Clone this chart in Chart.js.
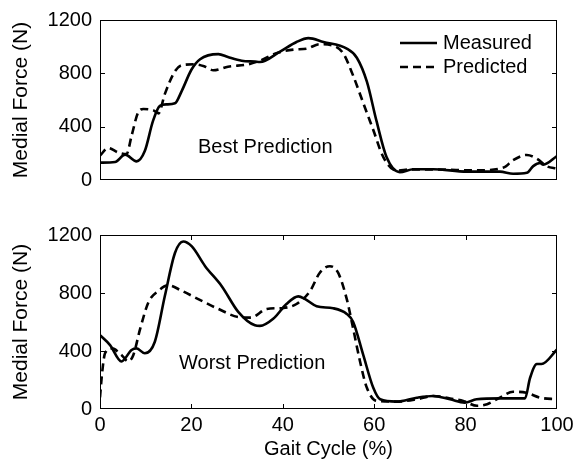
<!DOCTYPE html>
<html>
<head>
<meta charset="utf-8">
<script src="https://cdn.jsdelivr.net/npm/chart.js@4"></script>
<style>
  body { margin: 0; background: #fff; }
  #wrap { position: relative; width: 585px; height: 465px; }
  canvas { position: absolute; left: 0; }
</style>
</head>
<body>
<div id="wrap">
  <canvas id="bestChart" width="585" height="200" style="top:0"></canvas>
  <canvas id="worstChart" width="585" height="250" style="top:215px"></canvas>
</div>
<script>
// values (gait cycle %, force N)
const bestMeasuredX = [0, 3.3, 5.5, 8, 9.8, 11.6, 13.1, 14.6, 16.4, 17.9, 20, 21.9, 25.9, 28, 31, 33.9, 35, 39.4, 43, 45.6, 48.9, 54, 56.2, 58.4, 60.5, 62.7, 65.6, 68.6, 72.9, 80.2, 87.5, 90.4, 93.4, 94.8, 96.3, 97, 100];
const bestMeasuredY = [130, 135, 190, 140, 217, 443, 556, 567, 575, 669, 827, 906, 944, 922, 895, 888, 885, 963, 1035, 1064, 1035, 985, 917, 737, 443, 172, 59, 81, 81, 63, 63, 47, 54, 104, 127, 115, 180];
const bestPredictedX = [0, 1.8, 4, 5.8, 6.9, 8.4, 9.5, 11.7, 12.8, 14.2, 16.4, 17.9, 20.8, 23, 24.8, 28, 32.5, 35, 38.6, 42.3, 45.2, 48.1, 51, 53.2, 55.4, 57.6, 59.8, 62, 64.9, 68, 75, 82, 88.3, 90.4, 93.4, 95.6, 97.7, 100];
const bestPredictedY = [183, 240, 206, 194, 330, 511, 533, 522, 500, 646, 816, 861, 868, 850, 823, 850, 868, 895, 951, 978, 985, 1019, 1008, 951, 782, 578, 375, 172, 70, 80, 78, 72, 93, 149, 188, 160, 104, 85];

const worstMeasuredX = [0, 2.2, 4.7, 6.9, 8, 9.8, 12, 14.2, 16.4, 18.2, 20.1, 23, 26.6, 30.3, 33.9, 35, 37.9, 40.8, 43.4, 44.9, 47.4, 51, 54, 55.4, 57.6, 59.8, 61.3, 64.9, 69.3, 72.9, 76.6, 79.8, 82.4, 87.6, 93, 94.1, 95.6, 96.6, 100];
const worstMeasuredY = [509, 441, 328, 407, 418, 384, 464, 781, 1076, 1155, 1121, 985, 849, 668, 577, 573, 622, 724, 777, 758, 709, 695, 656, 600, 373, 146, 67, 51, 78, 90, 67, 44, 67, 73, 73, 214, 310, 310, 410];
const worstPredictedX = [0, 0.5, 1.1, 2.6, 4.7, 6.2, 7.3, 8.8, 10.6, 12.8, 14.9, 17.9, 21.5, 25.9, 30.3, 33, 36.5, 40.1, 43, 46, 48.1, 50.3, 52.1, 54, 55.4, 56.9, 58.4, 60.5, 64.9, 69.3, 72.9, 76.6, 79.5, 82.5, 84.7, 87.5, 90.4, 93.3, 96.3, 100];
const worstPredictedY = [80, 260, 384, 418, 373, 328, 373, 554, 736, 815, 854, 815, 758, 690, 634, 630, 690, 697, 724, 815, 940, 985, 940, 758, 554, 328, 146, 56, 51, 67, 90, 73, 56, 22, 33, 78, 119, 112, 78, 67];

const xTicks = [0, 20, 40, 60, 80, 100];
const yTicks = [0, 400, 800, 1200];
const seriesNames = ['Measured', 'Predicted'];

const FONT = 'Liberation Sans, Arial, Helvetica, sans-serif';

function toPoints(xs, ys) {
  return xs.map((x, i) => ({ x: x, y: ys[i] }));
}

// matlab style box with inward ticks + text labels
const boxPlugin = {
  id: 'boxPlugin',
  afterDraw(chart, args, opts) {
    const ctx = chart.ctx;
    const a = chart.chartArea;
    const xs = chart.scales.x, ys = chart.scales.y;
    const len = 5;
    ctx.save();
    ctx.strokeStyle = '#000';
    ctx.lineWidth = 1;
    ctx.strokeRect(a.left + 0.5, a.top + 0.5, a.right - a.left - 1, a.bottom - a.top - 1);
    ctx.beginPath();
    if (opts.xTicks) {
      xTicks.slice(1, -1).forEach(v => {
        const px = Math.round(xs.getPixelForValue(v)) + 0.5;
        ctx.moveTo(px, a.bottom); ctx.lineTo(px, a.bottom - len);
        ctx.moveTo(px, a.top); ctx.lineTo(px, a.top + len);
      });
    }
    yTicks.slice(1, -1).forEach(v => {
      const py = Math.round(ys.getPixelForValue(v)) + 0.5;
      ctx.moveTo(a.left, py); ctx.lineTo(a.left + len, py);
      ctx.moveTo(a.right, py); ctx.lineTo(a.right - len, py);
    });
    ctx.stroke();

    ctx.fillStyle = '#000';
    ctx.font = '20px ' + FONT;
    ctx.textBaseline = 'middle';
    ctx.textAlign = 'left';
    if (opts.label) ctx.fillText(opts.label.text, opts.label.x, opts.label.y);

    if (opts.legend) {
      const lg = opts.legend;
      chart.data.datasets.forEach((ds, i) => {
        const y = lg.y + i * 24;
        ctx.beginPath();
        ctx.lineWidth = ds.borderWidth;
        ctx.setLineDash(ds.borderDash || []);
        ctx.moveTo(lg.x, y); ctx.lineTo(lg.x + 37, y);
        ctx.stroke();
        ctx.setLineDash([]);
        ctx.fillText(ds.label, lg.x + 43, y);
      });
    }
    ctx.restore();
  }
};

function makeChart(id, measured, predicted, showX, padTop, xHeight, extras) {
  return new Chart(document.getElementById(id), {
    type: 'line',
    data: {
      datasets: [
        { label: seriesNames[0], data: measured, borderColor: '#000', borderWidth: 2.6,
          pointRadius: 0, tension: 0.4, cubicInterpolationMode: 'monotone', fill: false },
        { label: seriesNames[1], data: predicted, borderColor: '#000', borderWidth: 2.6, borderDash: [8, 5],
          pointRadius: 0, tension: 0.4, cubicInterpolationMode: 'monotone', fill: false }
      ]
    },
    options: {
      responsive: false,
      animation: false,
      devicePixelRatio: 1,
      layout: { padding: { top: padTop, right: 28, left: 0, bottom: 0 } },
      plugins: {
        legend: { display: false },
        tooltip: { enabled: false },
        boxPlugin: extras
      },
      scales: {
        x: {
          type: 'linear', min: 0, max: 100,
          afterFit: s => { s.height = xHeight; },
          afterBuildTicks: s => { s.ticks = xTicks.map(v => ({ value: v })); },
          grid: { display: false, drawTicks: false },
          border: { display: false },
          ticks: { display: showX, color: '#000', padding: 4, maxRotation: 0,
                   callback: v => String(v), font: { family: FONT, size: 20 } },
          title: { display: showX, text: 'Gait Cycle (%)', color: '#000', padding: { top: 0, bottom: 4 },
                   font: { family: FONT, size: 20 } }
        },
        y: {
          min: 0, max: 1200,
          afterFit: s => { s.width = 100; },
          afterBuildTicks: s => { s.ticks = yTicks.map(v => ({ value: v })); },
          grid: { display: false, drawTicks: false },
          border: { display: false },
          ticks: { color: '#000', padding: 8, callback: v => String(v), font: { family: FONT, size: 20 } },
          title: { display: true, text: 'Medial Force (N)', color: '#000', padding: { top: 9, bottom: 0 },
                   font: { family: FONT, size: 21 } }
        }
      }
    },
    plugins: [boxPlugin]
  });
}

makeChart('bestChart',
  toPoints(bestMeasuredX, bestMeasuredY), toPoints(bestPredictedX, bestPredictedY),
  false, 15, 8,
  { xTicks: false, label: { text: 'Best Prediction', x: 198, y: 147 }, legend: { x: 400, y: 43 } });

makeChart('worstChart',
  toPoints(worstMeasuredX, worstMeasuredY), toPoints(worstPredictedX, worstPredictedY),
  true, 18, 56,
  { xTicks: true, label: { text: 'Worst Prediction', x: 179, y: 148 } });
</script>
</body>
</html>
